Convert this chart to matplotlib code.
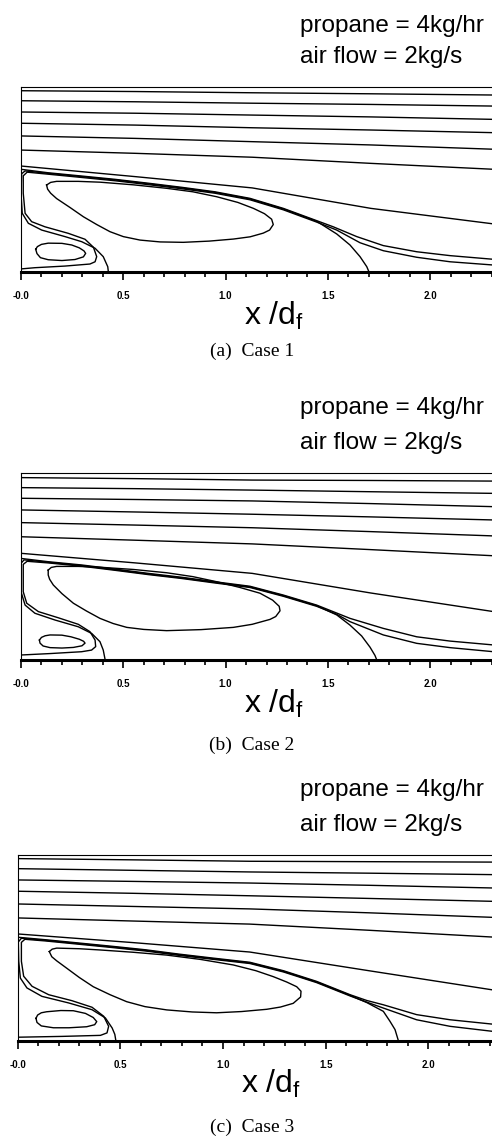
import matplotlib
matplotlib.use("Agg")
import matplotlib.pyplot as plt
import numpy as np

plt.rcParams['font.family'] = ['Liberation Sans', 'DejaVu Sans']
plt.rcParams['mathtext.fontset'] = 'custom'
plt.rcParams['mathtext.rm'] = 'Liberation Sans'
plt.rcParams['mathtext.it'] = 'Liberation Sans'
plt.rcParams['mathtext.default'] = 'regular'

# ---------------- data (x/d_f, r/d_f) ----------------
tick_vals = [0.0, 0.5, 1.0, 1.5, 2.0]
tick_labels = ["-0.0", "0.5", "1.0", "1.5", "2.0"]
captions = ["(a)  Case 1", "(b)  Case 2", "(c)  Case 3"]
note_1 = "propane = 4kg/hr"
note_2 = "air flow = 2kg/s"

stream_x = [0.0, 0.56, 1.13, 1.71, 2.31]

# ---- Case 1
c1_stream_y = [
    [0.886, 0.882, 0.876, 0.871, 0.865],
    [0.837, 0.832, 0.825, 0.819, 0.811],
    [0.782, 0.776, 0.767, 0.758, 0.746],
    [0.727, 0.718, 0.705, 0.694, 0.681],
    [0.665, 0.653, 0.637, 0.621, 0.600],
    [0.596, 0.580, 0.561, 0.531, 0.502],
    [0.518, 0.466, 0.411, 0.311, 0.235],
]
c1_outer_x = [0.0, 0.133, 0.297, 0.459, 0.622, 0.785, 0.948, 1.119, 1.282, 1.445, 1.526, 1.641, 1.771, 1.934, 2.097, 2.31]
c1_outer_y = [0.502, 0.485, 0.469, 0.453, 0.434, 0.414, 0.392, 0.360, 0.311, 0.251, 0.221, 0.173, 0.129, 0.099, 0.080, 0.062]
c1_inner_x = [0.0, 0.068, 0.215, 0.337, 0.362, 0.370, 0.354, 0.313, 0.231, 0.117, 0.052, 0.020, 0.011, 0.011, 0.030,
              0.133, 0.297, 0.459, 0.622, 0.785, 0.948, 1.119, 1.282, 1.445, 1.543, 1.657, 1.771, 1.934, 2.097, 2.31]
c1_inner_y = [0.015, 0.021, 0.029, 0.039, 0.050, 0.075, 0.121, 0.160, 0.189, 0.221, 0.246, 0.287, 0.385, 0.470, 0.488,
              0.478, 0.462, 0.446, 0.427, 0.407, 0.385, 0.353, 0.304, 0.244, 0.205, 0.143, 0.104, 0.072, 0.050, 0.034]
c1_bubble_x = [0.427, 0.424, 0.402, 0.362, 0.297, 0.215, 0.101, 0.036, 0.006, 0.000, 0.003, 0.020,
               0.133, 0.297, 0.459, 0.622, 0.785, 0.948, 1.119, 1.282, 1.445, 1.543, 1.608, 1.657, 1.690, 1.701]
c1_bubble_y = [0.000, 0.026, 0.075, 0.116, 0.148, 0.173, 0.205, 0.238, 0.287, 0.385, 0.480, 0.494,
               0.482, 0.466, 0.450, 0.431, 0.411, 0.389, 0.357, 0.308, 0.248, 0.186, 0.132, 0.075, 0.026, 0.000]
c1_big_x = [0.125, 0.145, 0.174, 0.280, 0.386, 0.550, 0.712, 0.840, 0.956, 1.060, 1.136, 1.190, 1.225, 1.233, 1.215,
            1.184, 1.120, 1.038, 0.920, 0.793, 0.680, 0.582, 0.500, 0.435, 0.370, 0.305, 0.240, 0.174, 0.145, 0.130, 0.125]
c1_big_y = [0.425, 0.438, 0.443, 0.443, 0.439, 0.426, 0.409, 0.392, 0.368, 0.340, 0.311, 0.285, 0.258, 0.232, 0.205,
            0.190, 0.172, 0.161, 0.151, 0.145, 0.147, 0.156, 0.173, 0.197, 0.232, 0.270, 0.315, 0.359, 0.385, 0.405, 0.425]
c1_small_x = [0.072, 0.080, 0.100, 0.133, 0.200, 0.248, 0.285, 0.308, 0.316, 0.305, 0.264, 0.200, 0.133, 0.095, 0.078, 0.072]
c1_small_y = [0.111, 0.124, 0.135, 0.141, 0.140, 0.132, 0.118, 0.103, 0.091, 0.074, 0.061, 0.056, 0.060, 0.070, 0.090, 0.111]

# ---- Case 2
c2_stream_y = [
    [0.889, 0.884, 0.877, 0.875, 0.872],
    [0.840, 0.835, 0.828, 0.820, 0.812],
    [0.788, 0.782, 0.775, 0.762, 0.747],
    [0.731, 0.721, 0.710, 0.697, 0.682],
    [0.669, 0.657, 0.644, 0.625, 0.604],
    [0.600, 0.583, 0.565, 0.537, 0.507],
    [0.519, 0.472, 0.421, 0.325, 0.234],
]
c2_outer_x = [0.0, 0.133, 0.297, 0.459, 0.622, 0.785, 0.948, 1.119, 1.282, 1.445, 1.543, 1.608, 1.771, 1.934, 2.097, 2.31]
c2_outer_y = [0.494, 0.478, 0.462, 0.442, 0.421, 0.402, 0.380, 0.358, 0.315, 0.266, 0.227, 0.201, 0.152, 0.111, 0.090, 0.071]
c2_inner_x = [0.0, 0.142, 0.296, 0.345, 0.365, 0.362, 0.337, 0.280, 0.182, 0.085, 0.028, 0.011, 0.011, 0.030,
              0.133, 0.297, 0.459, 0.622, 0.785, 0.948, 1.119, 1.282, 1.445, 1.543, 1.608, 1.771, 1.934, 2.097, 2.31]
c2_inner_y = [0.022, 0.029, 0.038, 0.046, 0.063, 0.095, 0.136, 0.172, 0.204, 0.234, 0.275, 0.331, 0.465, 0.480,
              0.472, 0.456, 0.436, 0.415, 0.396, 0.374, 0.352, 0.309, 0.260, 0.221, 0.185, 0.120, 0.079, 0.058, 0.038]
c2_bubble_x = [0.411, 0.402, 0.386, 0.346, 0.280, 0.166, 0.068, 0.020, 0.000, 0.000, 0.015,
               0.133, 0.297, 0.459, 0.622, 0.785, 0.948, 1.119, 1.282, 1.445, 1.543, 1.608, 1.665, 1.706, 1.730, 1.738]
c2_bubble_y = [0.000, 0.046, 0.087, 0.127, 0.160, 0.193, 0.226, 0.266, 0.331, 0.470, 0.487,
               0.475, 0.459, 0.439, 0.418, 0.399, 0.377, 0.355, 0.312, 0.263, 0.218, 0.168, 0.115, 0.060, 0.020, 0.000]
c2_big_x = [0.133, 0.148, 0.174, 0.280, 0.386, 0.550, 0.712, 0.840, 0.957, 1.070, 1.168, 1.230, 1.262, 1.266, 1.245,
            1.217, 1.130, 1.038, 0.880, 0.712, 0.600, 0.517, 0.450, 0.386, 0.320, 0.256, 0.200, 0.158, 0.140, 0.133, 0.133]
c2_big_y = [0.437, 0.450, 0.455, 0.455, 0.451, 0.440, 0.424, 0.405, 0.380, 0.352, 0.324, 0.290, 0.260, 0.238, 0.210,
            0.196, 0.172, 0.157, 0.146, 0.141, 0.147, 0.157, 0.176, 0.201, 0.237, 0.275, 0.322, 0.364, 0.392, 0.413, 0.437]
c2_small_x = [0.090, 0.100, 0.118, 0.142, 0.200, 0.244, 0.285, 0.306, 0.313, 0.298, 0.256, 0.200, 0.142, 0.108, 0.093, 0.090]
c2_small_y = [0.095, 0.108, 0.116, 0.120, 0.119, 0.111, 0.099, 0.089, 0.080, 0.067, 0.059, 0.056, 0.058, 0.066, 0.080, 0.095]

# ---- Case 3
c3_stream_y = [
    [0.886, 0.880, 0.873, 0.871, 0.869],
    [0.837, 0.829, 0.821, 0.815, 0.808],
    [0.782, 0.775, 0.767, 0.756, 0.743],
    [0.727, 0.717, 0.705, 0.692, 0.678],
    [0.665, 0.653, 0.641, 0.622, 0.600],
    [0.597, 0.582, 0.567, 0.537, 0.504],
    [0.519, 0.477, 0.431, 0.340, 0.247],
]
c3_outer_x = [0.0, 0.134, 0.297, 0.459, 0.622, 0.784, 0.946, 1.131, 1.294, 1.456, 1.619, 1.700, 1.781, 1.943, 2.106, 2.31]
c3_outer_y = [0.503, 0.491, 0.475, 0.459, 0.442, 0.421, 0.402, 0.381, 0.340, 0.288, 0.223, 0.195, 0.174, 0.126, 0.101, 0.080]
c3_inner_x = [0.0, 0.216, 0.403, 0.435, 0.443, 0.419, 0.362, 0.264, 0.151, 0.070, 0.029, 0.018, 0.018, 0.035,
              0.134, 0.297, 0.459, 0.622, 0.784, 0.946, 1.131, 1.294, 1.456, 1.619, 1.700, 1.781, 1.943, 2.106, 2.31]
c3_inner_y = [0.016, 0.020, 0.025, 0.037, 0.069, 0.118, 0.162, 0.194, 0.223, 0.264, 0.313, 0.386, 0.478, 0.493,
              0.485, 0.469, 0.453, 0.436, 0.415, 0.396, 0.375, 0.334, 0.282, 0.217, 0.187, 0.158, 0.101, 0.069, 0.045]
c3_bubble_x = [0.478, 0.473, 0.460, 0.427, 0.362, 0.248, 0.118, 0.045, 0.013, 0.005, 0.003, 0.018,
               0.134, 0.297, 0.459, 0.622, 0.784, 0.946, 1.131, 1.294, 1.456, 1.619, 1.700, 1.781, 1.813, 1.838, 1.854]
c3_bubble_y = [0.000, 0.030, 0.061, 0.110, 0.150, 0.183, 0.215, 0.256, 0.304, 0.386, 0.480, 0.498,
               0.488, 0.472, 0.456, 0.439, 0.418, 0.399, 0.378, 0.337, 0.285, 0.220, 0.185, 0.142, 0.094, 0.053, 0.000]
c3_big_x = [0.154, 0.168, 0.190, 0.300, 0.401, 0.560, 0.726, 0.890, 1.050, 1.160, 1.245, 1.310, 1.359, 1.380, 1.378,
            1.342, 1.280, 1.213, 1.090, 0.969, 0.850, 0.726, 0.620, 0.531, 0.450, 0.368, 0.300, 0.239, 0.190, 0.166, 0.154]
c3_big_y = [0.433, 0.445, 0.450, 0.447, 0.441, 0.430, 0.416, 0.395, 0.368, 0.340, 0.311, 0.285, 0.262, 0.240, 0.212,
            0.181, 0.163, 0.152, 0.141, 0.135, 0.139, 0.149, 0.165, 0.189, 0.223, 0.262, 0.307, 0.352, 0.388, 0.408, 0.433]
c3_small_x = [0.089, 0.097, 0.115, 0.141, 0.210, 0.271, 0.330, 0.368, 0.385, 0.375, 0.336, 0.250, 0.174, 0.115, 0.094, 0.089]
c3_small_y = [0.108, 0.124, 0.135, 0.140, 0.146, 0.145, 0.132, 0.112, 0.092, 0.077, 0.067, 0.062, 0.062, 0.071, 0.088, 0.108]

# ---------------- figure ----------------
W, H = 492, 1138
fig = plt.figure(figsize=(W / 100, H / 100), dpi=100)


def fx(px):
    return px / W


def fy(py):
    return 1 - py / H


def draw_case(left, top, bottom, scale, stream_y, outer, inner, bubble, big, small,
              note_y, label_x, label_y, cap_y, caption):
    ax = fig.add_axes([fx(left), fy(bottom), fx(W - left), (bottom - top) / H])
    ax.set_xlim(0, (W - left) / scale)
    ax.set_ylim(0, (bottom - top) / scale)
    lw = 1.0
    for ys in stream_y:
        ax.plot(stream_x, ys, color="black", lw=lw)
    for xs, ys in (outer, inner, bubble, big, small):
        ax.plot(xs, ys, color="black", lw=lw, solid_joinstyle="round")

    ax.spines["right"].set_visible(False)
    ax.spines["top"].set_linewidth(0.8)
    ax.spines["left"].set_linewidth(0.8)
    ax.spines["bottom"].set_linewidth(2.2)
    ax.set_yticks([])
    ax.set_xticks(tick_vals)
    ax.set_xticklabels(tick_labels, fontsize=7, fontweight="bold")
    ax.set_xticks(np.arange(0, 2.35, 0.1), minor=True)
    ax.tick_params(axis="x", which="major", direction="out", length=6, width=1.2, pad=8)
    ax.tick_params(axis="x", which="minor", direction="out", length=3.5, width=1.2)

    fig.text(fx(300), fy(note_y[0]), note_1, ha="left", va="baseline", fontsize=17.5)
    fig.text(fx(300), fy(note_y[1]), note_2, ha="left", va="baseline", fontsize=17.5)
    fig.text(fx(label_x), fy(label_y), r"x /d$_f$", ha="center", va="baseline", fontsize=23)
    fig.text(fx(252), fy(cap_y), caption, ha="center", va="center", fontsize=14,
             family=["Liberation Serif", "DejaVu Serif"])


draw_case(21, 87, 272, 204.6, c1_stream_y,
          (c1_outer_x, c1_outer_y), (c1_inner_x, c1_inner_y), (c1_bubble_x, c1_bubble_y),
          (c1_big_x, c1_big_y), (c1_small_x, c1_small_y),
          (32, 63), 274, 325, 351, captions[0])
draw_case(21, 472.5, 659.5, 204.6, c2_stream_y,
          (c2_outer_x, c2_outer_y), (c2_inner_x, c2_inner_y), (c2_bubble_x, c2_bubble_y),
          (c2_big_x, c2_big_y), (c2_small_x, c2_small_y),
          (414, 449), 274, 713, 745, captions[1])
draw_case(17.7, 855.3, 1040.5, 205.3, c3_stream_y,
          (c3_outer_x, c3_outer_y), (c3_inner_x, c3_inner_y), (c3_bubble_x, c3_bubble_y),
          (c3_big_x, c3_big_y), (c3_small_x, c3_small_y),
          (796, 831), 271, 1093, 1127, captions[2])

fig.savefig("out.png", dpi=100)
